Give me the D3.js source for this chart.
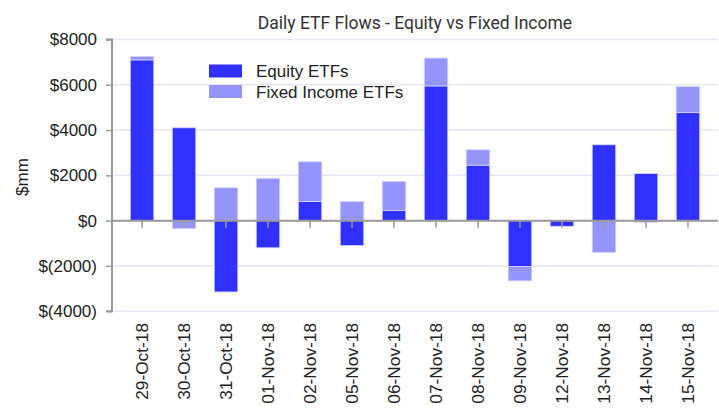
<!DOCTYPE html>
<html><head><meta charset="utf-8">
<script src="https://cdn.jsdelivr.net/npm/d3@7"></script>
<style>body{margin:0;background:#fff}svg{display:block}</style>
</head><body>
<svg id="c" width="719" height="417"></svg>
<script>
const categories = ["29-Oct-18","30-Oct-18","31-Oct-18","01-Nov-18","02-Nov-18","05-Nov-18","06-Nov-18","07-Nov-18","08-Nov-18","09-Nov-18","12-Nov-18","13-Nov-18","14-Nov-18","15-Nov-18"];
const equity = [7100, 4100, -3150, -1200, 850, -1100, 450, 5950, 2450, -2030, -250, 3350, 2080, 4770];
const fixedIncome = [150, -350, 1450, 1870, 1750, 850, 1280, 1230, 680, -630, 0, -1400, -70, 1150];
const seriesNames = ["Equity ETFs", "Fixed Income ETFs"];
const yTicks = [-4000, -2000, 0, 2000, 4000, 6000, 8000];
const colors = ["#3030ff", "#9494fa"];

const svg = d3.select("#c");
const mLeft = 112, mRight = 718, mTop = 39.5, mBottom = 311.2;
const font = "'Liberation Sans', Arial, sans-serif";

const x = d3.scaleBand().domain(categories).range([mLeft, mRight]).paddingInner(0.44).paddingOuter(0.435);
const y = d3.scaleLinear().domain([-4000, 8000]).range([mBottom, mTop]);

const rows = categories.map((c, i) => ({cat: c, eq: equity[i], fi: fixedIncome[i]}));
const stack = d3.stack().keys(["eq", "fi"]).offset(d3.stackOffsetDiverging);
const series = stack(rows);

// gridlines
svg.append("g").selectAll("line").data(yTicks).join("line")
  .attr("x1", mLeft).attr("x2", mRight)
  .attr("y1", d => y(d)).attr("y2", d => y(d))
  .attr("stroke", "#e6e6f4").attr("stroke-width", 1.5);

// bars
svg.append("g").selectAll("g").data(series).join("g")
  .attr("fill", (d, i) => colors[i])
  .selectAll("rect").data(d => d).join("rect")
  .attr("x", d => x(d.data.cat))
  .attr("width", x.bandwidth())
  .attr("y", d => y(Math.max(d[0], d[1])))
  .attr("height", d => Math.abs(y(d[0]) - y(d[1])))
  .attr("stroke", "#d4d4fc").attr("stroke-width", 0.8);

// zero line
svg.append("line").attr("x1", mLeft).attr("x2", mRight)
  .attr("y1", y(0)).attr("y2", y(0))
  .attr("stroke", "#9a9a9a").attr("stroke-width", 2);

// x ticks
svg.append("g").selectAll("line").data(categories).join("line")
  .attr("x1", d => x(d) + x.bandwidth() / 2).attr("x2", d => x(d) + x.bandwidth() / 2)
  .attr("y1", y(0)).attr("y2", y(0) + 7)
  .attr("stroke", "#9a9a9a").attr("stroke-width", 1.5);

// y axis
const yAxis = d3.axisLeft(y).tickValues(yTicks).tickSize(6).tickPadding(9)
  .tickFormat(d => d < 0 ? "$(" + Math.abs(d) + ")" : "$" + d);
const ya = svg.append("g").attr("transform", `translate(${mLeft},0)`).call(yAxis);
ya.select(".domain").attr("stroke", "#9a9a9a").attr("stroke-width", 2).attr("d", `M-6,${mTop}H0V${mBottom}H-6`);
ya.selectAll(".tick line").attr("stroke", "#9a9a9a").attr("stroke-width", 1.5);
ya.selectAll(".tick text").attr("font-family", font).attr("font-size", 17).attr("fill", "#222");

// x labels
svg.append("g").selectAll("text").data(categories).join("text")
  .attr("transform", d => `translate(${x(d) + x.bandwidth() / 2},323) rotate(-90)`)
  .attr("text-anchor", "end").attr("dy", "0.35em")
  .attr("font-family", font).attr("font-size", 17.3).attr("fill", "#222")
  .text(d => d);

// y label
svg.append("text").attr("transform", "translate(22,177) rotate(-90)")
  .attr("text-anchor", "middle").attr("dy", "0.35em")
  .attr("font-family", font).attr("font-size", 17).attr("fill", "#222").text("$mm");

// title
svg.append("text").attr("x", 415).attr("y", 28.5).attr("text-anchor", "middle")
  .attr("font-family", "Roboto, sans-serif").attr("font-size", 17.5).attr("fill", "#333")
  .text("Daily ETF Flows - Equity vs Fixed Income");

// legend
const lg = svg.append("g").selectAll("g").data(seriesNames).join("g")
  .attr("transform", (d, i) => `translate(209,${64.5 + i * 20.5})`);
lg.append("rect").attr("width", 33).attr("height", 13).attr("fill", (d, i) => colors[i]);
lg.append("text").attr("x", 47).attr("y", 12.5)
  .attr("font-family", font).attr("font-size", 17).attr("fill", "#222").text(d => d);
</script>
</body></html>
